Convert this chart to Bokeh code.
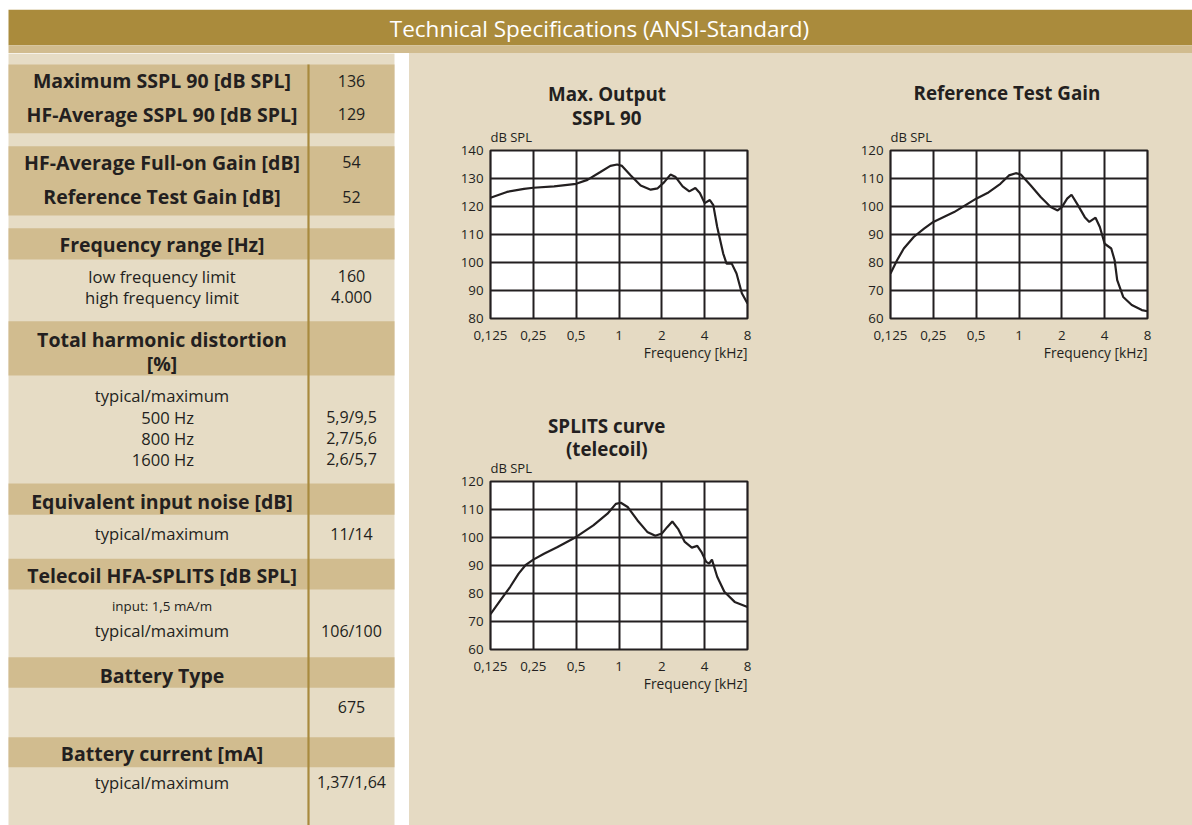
from bokeh.plotting import figure
from bokeh.layouts import column, row
from bokeh.models import FixedTicker, SingleIntervalTicker, Range1d, Title
from bokeh.embed import file_html
from bokeh.resources import INLINE
from bokeh.core.properties import value

# ---------------- data ----------------
header_title = "Technical Specifications (ANSI-Standard)"

freq_ticks = [0.125, 0.25, 0.5, 1, 2, 4, 8]
freq_tick_labels = ["0,125", "0,25", "0,5", "1", "2", "4", "8"]

chart_titles = [["Max. Output", "SSPL 90"], ["Reference Test Gain"], ["SPLITS curve", "(telecoil)"]]
y_unit_label = "dB SPL"
x_axis_title = "Frequency [kHz]"

# Max. Output SSPL 90 (dB SPL)
sspl_khz = [0.125, 0.163, 0.215, 0.25, 0.35, 0.5, 0.6, 0.74, 0.87, 0.97, 1.05, 1.21, 1.42,
            1.67, 1.87, 2.08, 2.3, 2.5, 2.8, 3.12, 3.44, 3.7, 4.0, 4.35, 4.6, 4.9, 5.4,
            5.7, 6.2, 6.7, 7.3, 8.0]
sspl_db = [123.1, 125.2, 126.3, 126.7, 127.2, 128.1, 129.5, 132.3, 134.5, 135.0, 134.5, 131.1,
           127.5, 126.0, 126.5, 128.7, 131.4, 130.5, 127.2, 125.4, 126.6, 124.8, 121.2, 122.3,
           120.5, 112.7, 103.2, 99.6, 99.6, 96.1, 89.0, 85.4]

# Reference Test Gain (dB SPL)
rtg_khz = [0.125, 0.139, 0.155, 0.182, 0.215, 0.25, 0.35, 0.5, 0.6, 0.74, 0.85, 0.95, 1.03,
           1.21, 1.42, 1.67, 1.87, 2.0, 2.18, 2.34, 2.6, 2.9, 3.12, 3.45, 3.7, 4.0, 4.45,
           4.7, 4.9, 5.4, 6.2, 7.3, 8.0]
rtg_db = [76.1, 80.8, 85.0, 89.1, 92.1, 94.5, 98.0, 102.8, 104.8, 108.1, 111.1, 111.9, 111.4,
          107.5, 103.4, 99.8, 98.6, 99.8, 102.8, 104.2, 100.4, 96.2, 94.5, 96.0, 92.7, 86.7,
          85.0, 80.8, 73.7, 67.7, 64.8, 63.0, 62.6]

# SPLITS curve (telecoil) (dB SPL)
splits_khz = [0.125, 0.147, 0.172, 0.197, 0.22, 0.25, 0.297, 0.37, 0.5, 0.66, 0.83, 0.95, 1.03,
              1.15, 1.35, 1.58, 1.8, 2.0, 2.18, 2.37, 2.6, 2.9, 3.25, 3.55, 3.8, 4.1, 4.3,
              4.5, 4.9, 5.5, 6.5, 8.0]
splits_db = [72.6, 77.6, 82.4, 87.1, 90.1, 92.1, 94.2, 96.6, 100.2, 104.3, 108.5, 112.0, 112.4,
             110.9, 106.1, 102.0, 100.6, 101.4, 103.7, 105.7, 103.1, 98.4, 96.4, 97.0, 94.8,
             91.3, 90.7, 92.1, 86.0, 80.6, 77.0, 75.2]

# table texts
section_titles = ["Maximum SSPL 90 [dB SPL]", "HF-Average SSPL 90 [dB SPL]",
                  "HF-Average Full-on Gain [dB]", "Reference Test Gain [dB]",
                  "Frequency range [Hz]", "Total harmonic distortion", "[%]",
                  "Equivalent input noise [dB]", "Telecoil HFA-SPLITS [dB SPL]",
                  "Battery Type", "Battery current [mA]"]
sub_labels = ["low frequency limit", "high frequency limit", "typical/maximum",
              "typical/maximum", "typical/maximum", "typical/maximum"]
thd_freqs = ["500 Hz", "800 Hz", "1600 Hz"]
small_note = ["input: 1,5 mA/m"]
spec_values = ["136", "129", "54", "52", "160", "4.000", "5,9/9,5", "2,7/5,6", "2,6/5,7",
               "11/14", "106/100", "675", "1,37/1,64"]

# ---------------- layout / style ----------------
GOLD = "#aa8b3c"
TAN = "#d1bc8f"
LIGHT = "#e6dcc5"
PANEL = "#e5dac3"
INK = "#231f20"
FONT = value("Open Sans")

section_y = [80, 113.5, 161.5, 196, 243.5, 338.5, 362.5, 500.5, 575, 674.5, 753]
sub_y = [275.5, 296.5, 394.5, 533, 630, 781.5]
thd_y = [416.5, 437.5, 458.5]
note_y = [605]
value_y = [80, 113.5, 161.5, 196, 275.5, 296.5, 416.5, 437.5, 458.5, 533, 630, 706.5, 781.5]
dark_top = [64, 145.7, 227.7, 320.7, 483, 558.3, 656.7, 736.7]
dark_bot = [132.7, 215, 259, 375, 514.3, 589, 687.3, 766.7]


def blank(width, height, x0, y0, bg):
    # a figure whose data space is page pixels
    f = figure(width=width, height=height, x_range=Range1d(x0, x0 + width),
               y_range=Range1d(y0 + height, y0), min_border=0,
               x_axis_location=None, y_axis_location=None,
               output_backend="svg", toolbar_location=None,
               background_fill_color=bg, border_fill_color=bg, outline_line_color=None)
    f.grid.visible = False
    return f


# ---- header ----
hdr = blank(1192, 53, 0, 0, "white")
hdr.quad(left=[8], right=[1192], top=[9.3], bottom=[44.7], fill_color=GOLD, line_color=None)
hdr.quad(left=[8], right=[1192], top=[44.7], bottom=[53], fill_color=TAN, line_color=None)
hdr.text(x=[599], y=[28], text=[header_title], text_font=FONT, text_font_size="22.5px",
         text_color="white", text_align="center", text_baseline="middle")

# ---- table ----
tab = blank(409, 772, 0, 53, "white")
tab.quad(left=[8], right=[394], top=[52.7], bottom=[825], fill_color=LIGHT, line_color=None)
tab.quad(left=[8] * len(dark_top), right=[394] * len(dark_top), top=dark_top, bottom=dark_bot,
         fill_color=TAN, line_color=None)
tab.segment(x0=[308], y0=[64], x1=[308], y1=[825], line_color="#a88a3e", line_width=2.2)
tab.text(x=[161.5] * len(section_titles), y=section_y, text=section_titles, text_font=FONT,
         text_font_size="19.5px", text_font_style="bold", text_color=INK,
         text_align="center", text_baseline="middle")
tab.text(x=[161.5] * len(sub_labels), y=sub_y, text=sub_labels, text_font=FONT,
         text_font_size="16.6px", text_color=INK, text_align="center", text_baseline="middle")
tab.text(x=[193.5] * len(thd_freqs), y=thd_y, text=thd_freqs, text_font=FONT,
         text_font_size="16.6px", text_color=INK, text_align="right", text_baseline="middle")
tab.text(x=[161.5], y=note_y, text=small_note, text_font=FONT,
         text_font_size="13.4px", text_color=INK, text_align="center", text_baseline="middle")
tab.text(x=[351] * len(spec_values), y=value_y, text=spec_values, text_font=FONT,
         text_font_size="16px", text_color=INK, text_align="center", text_baseline="middle")


# ---- charts ----
def chart(khz, db, ymin, ymax, width, height, lb, rb, tb, bb, heads):
    p = figure(width=width, height=height, x_axis_type="log",
               x_range=Range1d(0.125, 8), y_range=Range1d(ymin, ymax),
               min_border_left=lb, min_border_right=rb, min_border_top=tb, min_border_bottom=bb,
               output_backend="svg", toolbar_location=None,
               background_fill_color="white", border_fill_color=PANEL,
               outline_line_color=INK, outline_line_width=2.2, title=None)
    p.line(khz, db, line_color=INK, line_width=2.2)
    xa = p.xaxis[0]
    ya = p.yaxis[0]
    xa.ticker = FixedTicker(ticks=freq_ticks)
    xa.major_label_overrides = {t: l for t, l in zip(freq_ticks, freq_tick_labels)}
    ya.ticker = SingleIntervalTicker(interval=10)
    for ax in (xa, ya):
        ax.axis_line_color = None
        ax.major_tick_line_color = None
        ax.minor_tick_line_color = None
        ax.major_tick_out = 0
        ax.major_tick_in = 0
        ax.minor_tick_out = 0
        ax.minor_tick_in = 0
        ax.major_label_text_font = "Open Sans"
        ax.major_label_text_font_size = "13.3px"
        ax.major_label_text_color = INK
    xa.major_label_standoff = 12
    ya.major_label_standoff = 7
    p.xgrid.ticker = FixedTicker(ticks=freq_ticks)
    p.ygrid.ticker = SingleIntervalTicker(interval=10)
    p.grid.grid_line_color = INK
    p.grid.grid_line_width = 2
    p.grid.grid_line_alpha = 1.0
    p.add_layout(Title(text=x_axis_title, align="right", text_font="Open Sans",
                       text_font_size="13.8px", text_font_style="normal", text_color=INK,
                       standoff=-4, offset=0), "below")
    # stacked headings above the frame: unit label first (closest), then title lines
    p.add_layout(Title(text=y_unit_label, align="left", text_font="Open Sans",
                       text_font_size="13px", text_font_style="normal", text_color=INK,
                       standoff=10, offset=0), "above")
    for text, off, so in heads:
        p.add_layout(Title(text=text, align="left", text_font="Open Sans",
                           text_font_size="18.8px", text_font_style="bold", text_color=INK,
                           standoff=so, offset=off), "above")
    return p


# left column (x 409..800): frame 490..747
c1 = chart(sspl_khz, sspl_db, 80, 140, 391, 332, 81, 53, 97, 67,
           [(chart_titles[0][1], 81.5, -20.4), (chart_titles[0][0], 57.5, 10.8)])
c3 = chart(splits_khz, splits_db, 60, 120, 391, 440, 81, 53, 96, 176,
           [(chart_titles[2][1], 75.5, -21.4), (chart_titles[2][0], 57.5, 10.8)])
# right column (x 800..1192): frame 890..1147
c2 = chart(rtg_khz, rtg_db, 60, 120, 392, 332, 90, 45, 97, 67,
           [(chart_titles[1][0], 23, 29.6)])
fill = blank(392, 440, 800, 385, PANEL)

colA = column(c1, c3, spacing=0, styles={"background-color": PANEL})
colB = column(c2, fill, spacing=0, styles={"background-color": PANEL})
right = row(colA, colB, spacing=0, styles={"background-color": PANEL})
page = column(hdr, row(tab, right, spacing=0), spacing=0)

open("out.html", "w").write(file_html(page, INLINE))
